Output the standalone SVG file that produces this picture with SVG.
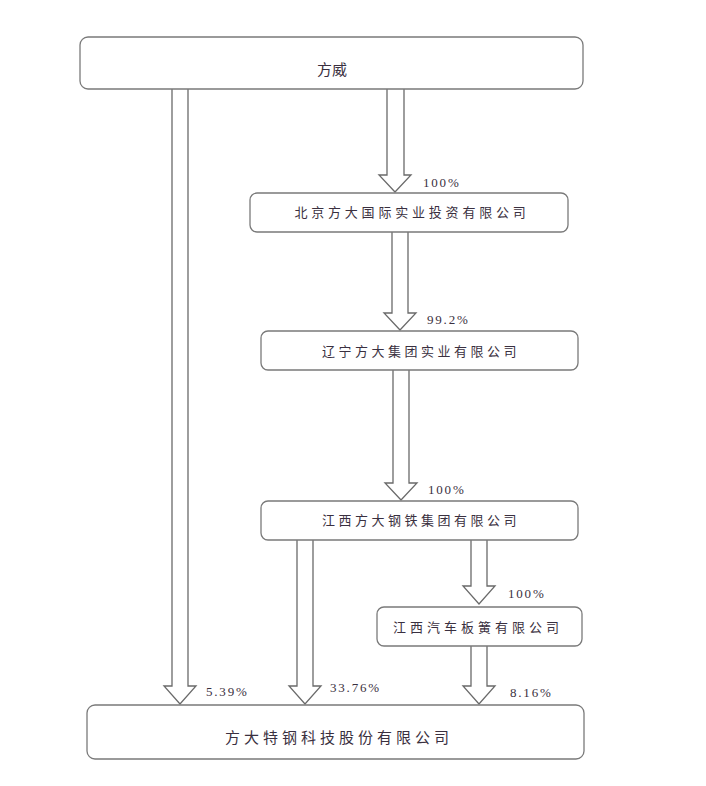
<svg xmlns="http://www.w3.org/2000/svg" width="706" height="786" viewBox="0 0 706 786">
<style>
.box{fill:#fff;stroke:#7a7a7a;stroke-width:1.3}
.arr{fill:#fff;stroke:#6a6a6a;stroke-width:1.3;stroke-linejoin:miter}
.t{font-family:"Noto Sans CJK SC","Noto Sans",sans-serif;fill:#3a3040;text-anchor:middle}
.p{font-family:"Liberation Serif",serif;font-size:13px;letter-spacing:1.8px;fill:#3a3040}
</style>
<rect width="706" height="786" fill="#fff"/>
<g id="connectors">
<path class="arr" d="M172,89 V686 H164 L180,704 L196,686 H188 V89"/>
<path class="arr" d="M387,89 V175 H379 L395,192 L411,175 H404 V89"/>
<path class="arr" d="M392,232 V313 H384 L400,330 L416,313 H408 V232"/>
<path class="arr" d="M393,370 V483 H385 L401,500 L417,483 H409 V370"/>
<path class="arr" d="M297,540 V686 H289 L305,704 L321,686 H313 V540"/>
<path class="arr" d="M471,540 V586 H463 L479,604 L495,586 H487 V540"/>
<path class="arr" d="M471,646 V686 H463 L479,704 L495,686 H487 V646"/>
<text class="p" x="423" y="187">100%</text>
<text class="p" x="427" y="324">99.2%</text>
<text class="p" x="428" y="494">100%</text>
<text class="p" x="508" y="598">100%</text>
<text class="p" x="206" y="696">5.39%</text>
<text class="p" x="330" y="692">33.76%</text>
<text class="p" x="510" y="697">8.16%</text>
</g>
<g id="n-fangwei">
<rect class="box" x="80" y="37" width="503" height="52" rx="8"/>
<text class="t" x="332" y="75" font-size="15">方威</text>
</g>
<g id="n-beijing">
<rect class="box" x="250" y="193" width="318" height="39" rx="7"/>
<text class="t" x="412" y="217" font-size="13" letter-spacing="3.8">北京方大国际实业投资有限公司</text>
</g>
<g id="n-liaoning">
<rect class="box" x="261" y="331" width="317" height="39" rx="7"/>
<text class="t" x="421" y="356" font-size="13" letter-spacing="3.5">辽宁方大集团实业有限公司</text>
</g>
<g id="n-jiangxi-steel">
<rect class="box" x="261" y="501" width="317" height="39" rx="7"/>
<text class="t" x="421" y="525" font-size="13" letter-spacing="3.5">江西方大钢铁集团有限公司</text>
</g>
<g id="n-jiangxi-spring">
<rect class="box" x="377" y="607" width="205" height="39" rx="7"/>
<text class="t" x="478" y="632" font-size="13" letter-spacing="4">江西汽车板簧有限公司</text>
</g>
<g id="n-fangda-special">
<rect class="box" x="87" y="705" width="497" height="54" rx="8"/>
<text class="t" x="339" y="743" font-size="15" letter-spacing="4">方大特钢科技股份有限公司</text>
</g>
</svg>
